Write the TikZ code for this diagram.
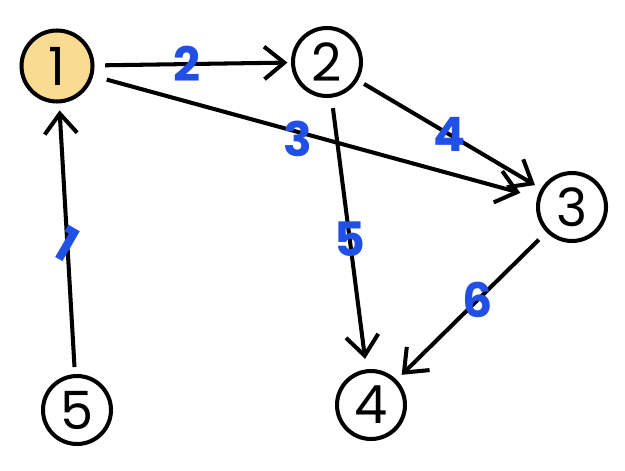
\documentclass[tikz,border=0pt]{standalone}
\usepackage{fontspec}
\setmainfont{Poppins}
\usepackage{tikz}
\usetikzlibrary{arrows.meta, positioning}
\definecolor{nodeyellow}{HTML}{F9DB92}
\definecolor{labelblue}{HTML}{2150E6}
\tikzstyle{vertex} = [circle, draw=black, line width=2.3pt, minimum size=1.36cm,
                      inner sep=0pt, font=\fontsize{30}{30}\selectfont]
\tikzstyle{arrow}  = [line width=2.3pt, -{Straight Barb[length=4mm,width=6.5mm,line width=2.3pt]}]

\begin{document}
\begin{tikzpicture}[x=0.02cm, y=-0.02cm,
    wlab/.style={text=labelblue, inner sep=0pt, font=\fontsize{27}{27}\selectfont\bfseries}]
  \useasboundingbox (0,0) rectangle (625,470);

  \node[vertex, fill=nodeyellow, minimum width=1.42cm] (v1) at ( 57, 66) {1};
  \node[vertex] (v2) at (327, 62) {2};
  \node[vertex] (v3) at (572,207) {3};
  \node[vertex] (v4) at (371,405) {4};
  \node[vertex] (v5) at ( 77,410) {5};

  \draw[arrow, shorten <=6pt, shorten >=2pt] (v1) -- (v2)
    node[wlab, pos=0.47]{2};
  \draw[arrow, shorten <=4pt, shorten >=4pt] (v2) -- (v3)
    node[wlab, pos=0.5]{4};
  \draw[arrow, shorten <=8pt, shorten >=10pt] (v1) -- (v3)
    node[wlab, pos=0.46, yshift=-4pt]{3};
  \draw[arrow, shorten <=6pt, shorten >=6pt] (v2) -- (v4)
    node[wlab, pos=0.52]{5};
  \draw[arrow, shorten <=6pt, shorten >=4pt] (v3) -- (v4)
    node[wlab, pos=0.46]{6};
  \draw[arrow, shorten <=4pt, shorten >=4pt] (v5) -- (v1)
    node[wlab, pos=0.48, rotate=-30]{1};
\end{tikzpicture}
\end{document}
